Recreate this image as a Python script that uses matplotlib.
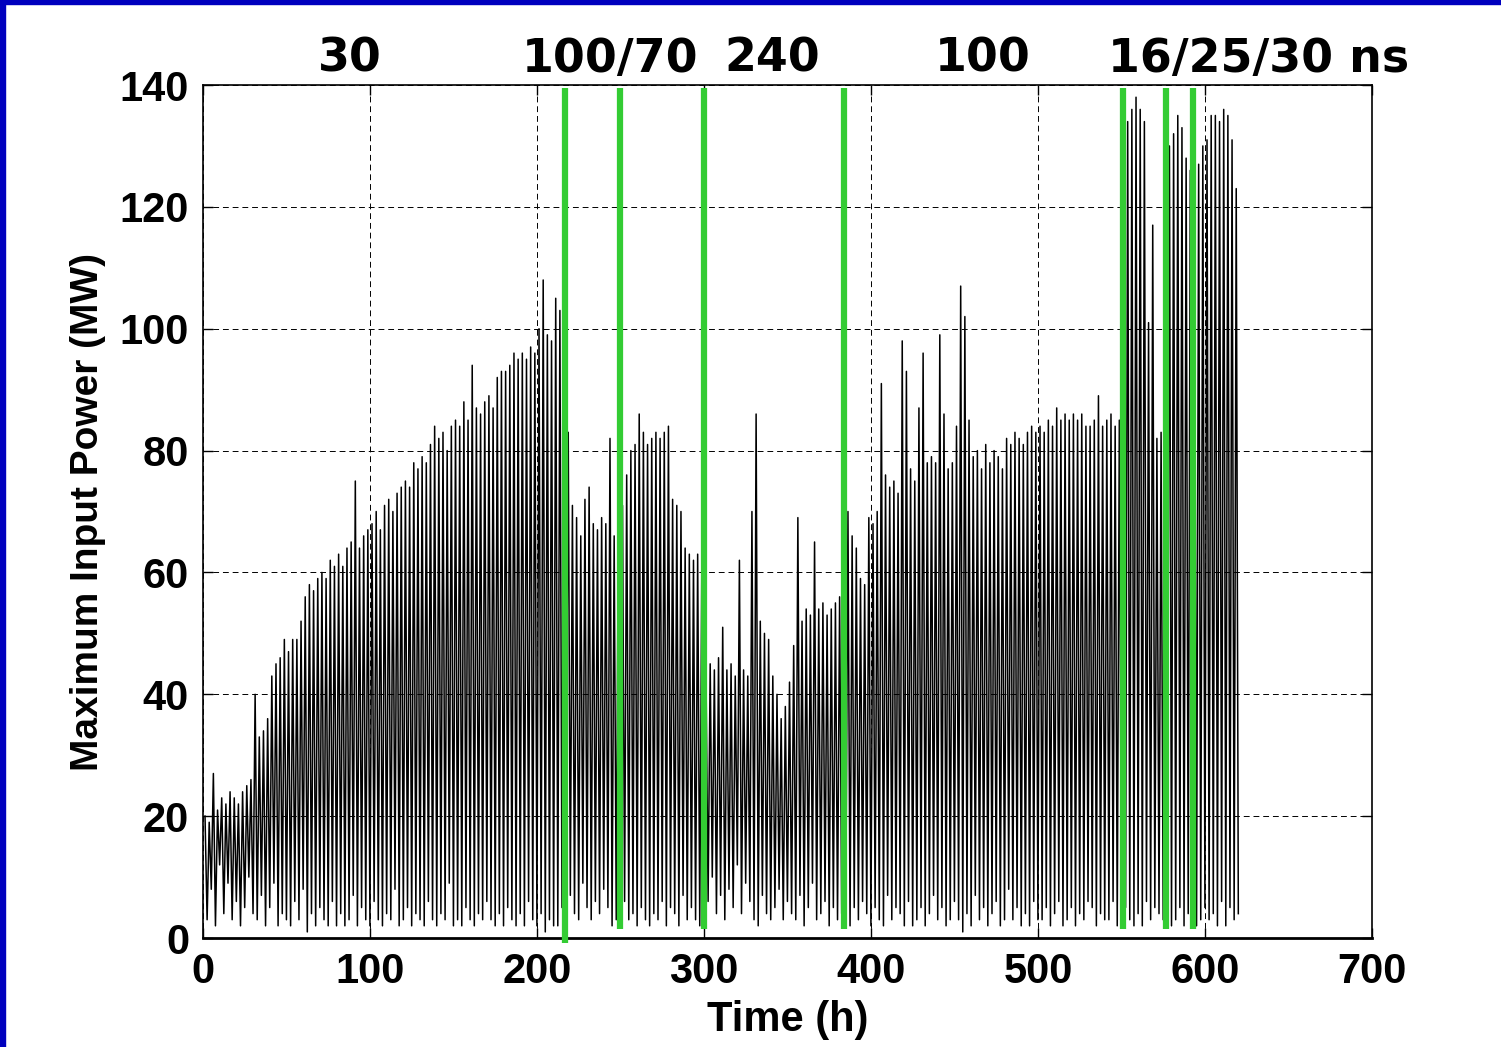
import numpy as np
import matplotlib.pyplot as plt
from matplotlib.patches import Rectangle

# peak / trough of each pulse cycle, one row per 10 h
STEP = 2.5
peaks = [
    20, 19, 27, 21,
    23, 22, 24, 23,
    22, 24, 25, 26,
    40, 33, 34, 36,
    43, 45, 46, 49,
    47, 49, 49, 52,
    56, 58, 57, 59,
    60, 59, 62, 61,
    63, 61, 64, 65,
    75, 64, 66, 67,
    68, 70, 67, 71,
    72, 70, 73, 74,
    75, 74, 78, 77,
    79, 78, 81, 84,
    82, 83, 80, 84,
    85, 84, 88, 85,
    94, 87, 86, 88,
    89, 87, 92, 93,
    93, 94, 96, 95,
    96, 95, 97, 96,
    100, 108, 99, 98,
    105, 103, 73, 83,
    71, 69, 66, 72,
    74, 68, 67, 69,
    68, 82, 66, 70,
    71, 76, 80, 81,
    86, 83, 81, 82,
    83, 82, 83, 84,
    72, 71, 70, 64,
    63, 62, 63, 62,
    43, 45, 44, 46,
    51, 44, 45, 43,
    62, 44, 43, 70,
    86, 52, 50, 49,
    43, 40, 36, 38,
    42, 48, 69, 52,
    54, 53, 65, 54,
    55, 53, 54, 55,
    56, 69, 70, 66,
    64, 59, 58, 69,
    68, 70, 91, 76,
    74, 75, 73, 98,
    93, 77, 75, 87,
    96, 78, 79, 78,
    99, 86, 77, 78,
    84, 107, 102, 85,
    79, 80, 77, 81,
    78, 80, 79, 77,
    82, 81, 83, 82,
    81, 83, 84, 83,
    84, 83, 85, 84,
    87, 85, 86, 85,
    86, 85, 86, 84,
    84, 85, 89, 84,
    85, 86, 84, 85,
    124, 134, 136, 138,
    136, 134, 101, 117,
    82, 83, 82, 130,
    132, 135, 133, 128,
    126, 125, 127, 130,
    131, 135, 135, 134,
    136, 135, 131, 123,
]
troughs = [
    3, 8, 2, 12,
    4, 9, 3, 6,
    2, 5, 10, 4,
    3, 7, 2, 5,
    9, 2, 4, 3,
    2, 6, 3, 8,
    1, 4, 2, 5,
    3, 2, 6, 2,
    4, 2, 3, 7,
    2, 5, 3, 2,
    6, 3, 2, 4,
    3, 8, 2, 3,
    5, 2, 4, 3,
    2, 6, 3, 2,
    4, 3, 9, 2,
    3, 2, 5, 3,
    2, 4, 3, 6,
    3, 2, 4, 2,
    5, 3, 2, 4,
    2, 6, 3, 2,
    4, 1, 3, 2,
    2, 5, 22, 7,
    4, 3, 9, 5,
    3, 6, 4, 8,
    5, 2, 3, 4,
    6, 3, 4, 2,
    5, 3, 2, 4,
    3, 6, 2, 5,
    4, 2, 7, 3,
    5, 3, 2, 4,
    6, 10, 4, 7,
    3, 8, 5, 12,
    4, 9, 6, 3,
    2, 7, 4, 3,
    5, 8, 3, 6,
    4, 3, 7, 2,
    5, 9, 3, 4,
    6, 2, 5, 3,
    4, 7, 2, 5,
    3, 6, 4, 2,
    5, 3, 2, 7,
    3, 5, 4, 2,
    6, 2, 3, 5,
    2, 4, 7, 3,
    5, 2, 3, 6,
    3, 1, 4, 2,
    7, 3, 5, 2,
    4, 6, 2, 3,
    8, 3, 5, 2,
    4, 2, 6, 3,
    3, 5, 2, 4,
    6, 2, 3, 5,
    2, 4, 3, 6,
    5, 2, 4, 3,
    3, 6, 2, 4,
    5, 3, 2, 4,
    2, 6, 3, 5,
    4, 3, 5, 2,
    3, 5, 2, 4,
    6, 2, 3, 5,
    3, 4, 2, 6,
    2, 5, 3, 4,
]

# pulse length changes (h) and the pulse length used in each period
changes = [217, 250, 300, 384, 551, 576.5, 593]
period_labels = ["30", "100/70", "240", "100", "16/25/30 ns"]
period_pos = [88, 244, 341, 467, 632]

t_peak = np.arange(len(peaks)) * STEP + 1.25
t_trough = t_peak + STEP / 2
x = np.column_stack([t_peak, t_trough]).ravel()
y = np.column_stack([peaks, troughs]).ravel()

fig = plt.figure(figsize=(15.01, 10.47), dpi=100)
ax = fig.add_axes([0.1352, 0.1041, 0.7788, 0.8147])

ax.plot(x, y, color='black', lw=1.1)

green = '#33CC33'
for i, c in enumerate(changes):
    lo = -0.8 if i == 0 else 1.5
    ax.plot([c, c], [lo, 139.5], color=green, lw=4.5, solid_capstyle='butt',
            clip_on=False, zorder=5)

for lab, p in zip(period_labels, period_pos):
    ax.text(p, 1.0305, lab, transform=ax.get_xaxis_transform(), ha='center',
            va='center', fontsize=33, fontweight='bold', family='DejaVu Sans')

ax.set_xlim(0, 700)
ax.set_ylim(0, 140)
ax.set_xticks(range(0, 701, 100))
ax.set_yticks(range(0, 141, 20))
ax.grid(True, color='black', ls=(0, (6, 4)), lw=0.7)
ax.tick_params(direction='in', length=7, width=1, top=True, right=True, pad=10)
for lab in ax.get_xticklabels() + ax.get_yticklabels():
    lab.set_family('Liberation Sans')
    lab.set_fontweight('bold')
    lab.set_fontsize(30)
for s in ax.spines.values():
    s.set_linewidth(1.2)
ax.spines['bottom'].set_linewidth(2)

ax.set_xlabel('Time (h)', fontsize=30, fontweight='bold', family='Liberation Sans', labelpad=6)
ax.set_ylabel('Maximum Input Power (MW)', fontsize=28, fontweight='bold',
              family='Liberation Sans', labelpad=10)

# blue frame strips along the left and top edges
blue = '#0000BE'
fig.patches.append(Rectangle((0, 0), 5 / 1501, 1, transform=fig.transFigure, color=blue))
fig.patches.append(Rectangle((0, 1 - 4 / 1047), 1, 4 / 1047, transform=fig.transFigure, color=blue))

fig.savefig('out.png', dpi=100)
